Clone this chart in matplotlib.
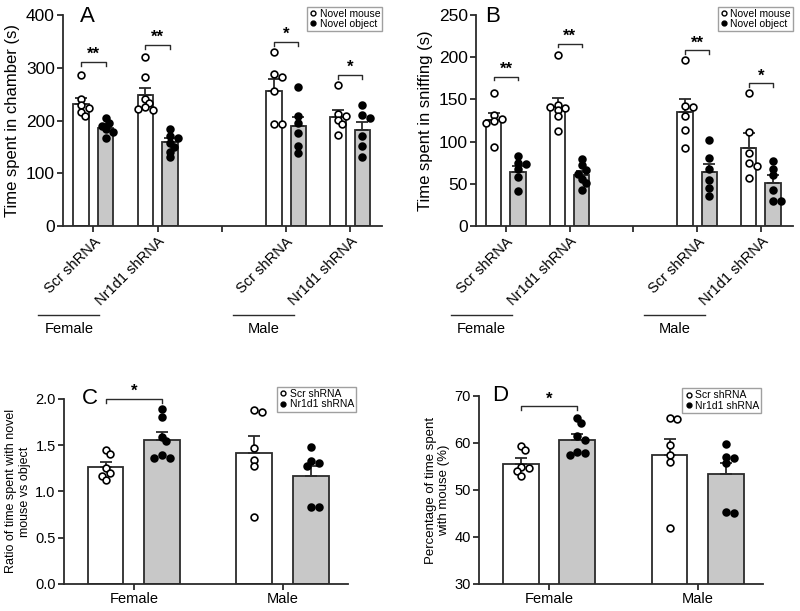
import numpy as np
import matplotlib.pyplot as plt
from matplotlib.lines import Line2D
from matplotlib.transforms import blended_transform_factory

plt.rcParams['font.family'] = ['Liberation Sans', 'DejaVu Sans']

strain_labels = ['Scr shRNA', 'Nr1d1 shRNA', 'Scr shRNA', 'Nr1d1 shRNA']
sex_labels = ['Female', 'Male']

# panel A - time spent in chamber, each group [novel mouse, novel object]
a_mean = [[232, 185], [248, 160], [256, 189], [206, 182]]
a_sem = [[11, 8], [14, 7], [23, 18], [14, 16]]
a_mouse = [[286, 240, 229, 224, 217, 209],
           [320, 282, 240, 233, 225, 220, 222],
           [329, 288, 283, 255, 193, 193],
           [267, 213, 201, 209, 193, 173]]
a_object = [[204, 196, 190, 183, 178, 166],
            [184, 171, 166, 157, 150, 141, 131],
            [264, 209, 196, 176, 152, 138],
            [229, 210, 204, 170, 152, 130]]
a_sig = ['**', '**', '*', '*']
a_sig_y = [311, 343, 349, 286]

# panel B - time spent in sniffing
b_mean = [[126, 64], [141, 60], [135, 64], [93, 51]]
b_sem = [[8, 7], [11, 5], [15, 10], [17, 9]]
b_mouse = [[157, 131, 127, 124, 122, 94],
           [203, 143, 140, 141, 137, 130, 113],
           [197, 142, 141, 130, 114, 92],
           [157, 111, 86, 75, 71, 57]]
b_object = [[83, 75, 74, 68, 58, 41],
            [79, 72, 66, 62, 56, 51, 43],
            [102, 81, 68, 55, 45, 36],
            [77, 68, 60, 43, 30, 30]]
b_sig = ['**', '**', '**', '*']
b_sig_y = [177, 216, 208, 169]

# panel C - ratio mouse / object, each sex [Scr, Nr1d1]
c_mean = [[1.26, 1.56], [1.42, 1.17]]
c_sem = [[0.055, 0.08], [0.18, 0.11]]
c_scr = [[1.45, 1.40, 1.25, 1.20, 1.17, 1.12],
         [1.88, 1.86, 1.47, 1.34, 1.27, 0.72]]
c_nr = [[1.89, 1.80, 1.59, 1.55, 1.39, 1.36, 1.36],
        [1.48, 1.33, 1.31, 1.28, 0.83, 0.83]]

# panel D - percentage of time with mouse
d_mean = [[55.6, 60.6], [57.4, 53.3]]
d_sem = [[1.1, 1.3], [3.5, 2.5]]
d_scr = [[59.3, 58.5, 54.9, 54.7, 54.1, 52.9],
         [65.2, 65.0, 59.5, 57.4, 56.0, 42.0]]
d_nr = [[65.4, 64.3, 61.4, 60.7, 58.1, 57.8, 57.4],
        [59.7, 57.0, 56.7, 55.8, 45.4, 45.0]]

EDGE = '#2b2b2b'
GRAY = '#c8c8c8'
W = 0.24
OFF = 0.19


def swarm(ax, xc, vals, diam=6.5):
    # small beeswarm in pixel units, points may overlap a bit
    tr = ax.transData
    placed = []
    out = []
    for v in vals:
        px0, py = tr.transform((xc, v))
        best = None
        for k in [0, 1, -1, 2, -2]:
            px = px0 + k * diam * 0.6
            if all((px - qx) ** 2 + (py - qy) ** 2 >= (diam * 0.8) ** 2 for qx, qy in placed):
                best = px
                break
        if best is None:
            best = px0
        placed.append((best, py))
        out.append(tr.inverted().transform((best, py))[0])
    return out


def style(ax, ylim, yticks, fs):
    for s in ['top', 'right']:
        ax.spines[s].set_visible(False)
    for s in ['left', 'bottom']:
        ax.spines[s].set_linewidth(1.3)
        ax.spines[s].set_color(EDGE)
    ax.set_ylim(*ylim)
    ax.set_yticks(yticks)
    ax.tick_params(width=1.3, length=4, color=EDGE, labelsize=fs, pad=2)


def group(ax, x, mean, sem, vals, filled):
    ax.bar(x, mean, W, color=GRAY if filled else 'white', edgecolor=EDGE,
           linewidth=1.3, zorder=1)
    ax.errorbar(x, mean, yerr=[[0], [sem]], fmt='none', ecolor=EDGE,
                elinewidth=1.3, capsize=4, capthick=1.3, zorder=2)
    xs = swarm(ax, x, vals)
    ax.scatter(xs, vals, s=24, facecolor='black' if filled else 'white',
               edgecolor='black', linewidth=1.2, zorder=3)


def bracket(ax, x1, x2, y, drop, star, fs=12):
    ax.plot([x1, x1, x2, x2], [y - drop, y, y, y - drop], color=EDGE, lw=1.0,
            clip_on=False)
    ax.text((x1 + x2) / 2, y, star, ha='center', va='bottom', fontsize=fs,
            fontweight='bold')


def legend(ax, labels, anchor, fs):
    h = [Line2D([], [], ls='none', marker='o', ms=3.5, mfc='white', mec='black', mew=1),
         Line2D([], [], ls='none', marker='o', ms=3.5, mfc='black', mec='black', mew=1)]
    lg = ax.legend(h, labels, loc='upper right', bbox_to_anchor=anchor,
                   fontsize=fs, frameon=True, fancybox=False, borderpad=0.2,
                   handletextpad=0.2, handlelength=0.8, labelspacing=0.05,
                   borderaxespad=0)
    lg.get_frame().set_edgecolor('#888888')
    lg.get_frame().set_linewidth(1.0)


fig = plt.figure(figsize=(8, 6.11), dpi=100)

gx = [0, 1, 3, 4]
top_panels = [
    ([0.079, 0.630, 0.399, 0.3455], a_mean, a_sem, a_mouse, a_object, a_sig, a_sig_y,
     (0, 400), [0, 100, 200, 300, 400], 'Time spent in chamber (s)', 'A', 0.053, 7),
    ([0.595, 0.630, 0.396, 0.3455], b_mean, b_sem, b_mouse, b_object, b_sig, b_sig_y,
     (0, 250), [0, 50, 100, 150, 200, 250], 'Time spent in sniffing (s)', 'B', 0.03, 4.5),
]
for rect, mean, sem, mouse, obj, sig, sig_y, ylim, yt, ylab, letter, lx, drop in top_panels:
    ax = fig.add_axes(rect)
    ax.set_xlim(-0.47, 4.5)
    style(ax, ylim, yt, 12.5)
    for i, x in enumerate(gx):
        group(ax, x - OFF, mean[i][0], sem[i][0], mouse[i], False)
        group(ax, x + OFF, mean[i][1], sem[i][1], obj[i], True)
        bracket(ax, x - OFF, x + OFF, sig_y[i], drop, sig[i])
    ax.set_xticks([0, 1, 2, 3, 4])
    ax.set_xticklabels([strain_labels[0], strain_labels[1], '', strain_labels[2],
                        strain_labels[3]], rotation=45, ha='right',
                       rotation_mode='anchor', fontsize=10.5)
    ax.set_ylabel(ylab, fontsize=12, labelpad=4)
    ax.text(lx, 0.995, letter, transform=ax.transAxes, fontsize=16, va='center')
    legend(ax, ['Novel mouse', 'Novel object'], (1.0, 1.04), 7.5)
    tr = blended_transform_factory(ax.transData, fig.transFigure)
    for j, (x1, x2) in enumerate([(-0.86, 0.094), (2.17, 3.125)]):
        ax.plot([x1, x2], [0.4845, 0.4845], color=EDGE, lw=1.0, transform=tr,
                clip_on=False)
        ax.text((x1 + x2) / 2, 0.4615, sex_labels[j], transform=tr, ha='center',
                va='center', fontsize=10.5)

bottom_panels = [
    ([0.080, 0.0442, 0.355, 0.303], c_mean, c_sem, c_scr, c_nr, 2.0, 0.04,
     (0, 2.0), [0, 0.5, 1.0, 1.5, 2.0], 'Ratio of time spent with novel\nmouse vs object',
     9, 'C', 0.062, (1.028, 1.065), ['0.0', '0.5', '1.0', '1.5', '2.0']),
    ([0.599, 0.0442, 0.355, 0.3078], d_mean, d_sem, d_scr, d_nr, 67.8, 0.8,
     (30, 70), [30, 40, 50, 60, 70], 'Percentage of time spent\nwith mouse (%)',
     9.5, 'D', 0.046, (0.993, 1.04), None),
]
for rect, mean, sem, scr, nr, sy, drop, ylim, yt, ylab, yfs, letter, lx, anc, ytl in bottom_panels:
    ax = fig.add_axes(rect)
    ax.set_xlim(-0.47, 1.44)
    style(ax, ylim, yt, 10.5)
    if ytl:
        ax.set_yticklabels(ytl)
    for i in range(2):
        group(ax, i - OFF, mean[i][0], sem[i][0], scr[i], False)
        group(ax, i + OFF, mean[i][1], sem[i][1], nr[i], True)
    bracket(ax, -OFF, OFF, sy, drop, '*')
    ax.set_xticks([0, 1])
    ax.set_xticklabels(sex_labels, fontsize=10.5)
    ax.set_ylabel(ylab, fontsize=yfs, labelpad=3)
    ax.text(lx, 1.0, letter, transform=ax.transAxes, fontsize=16, va='center')
    legend(ax, ['Scr shRNA', 'Nr1d1 shRNA'], anc, 7.5)

fig.savefig('out.png', dpi=100)
